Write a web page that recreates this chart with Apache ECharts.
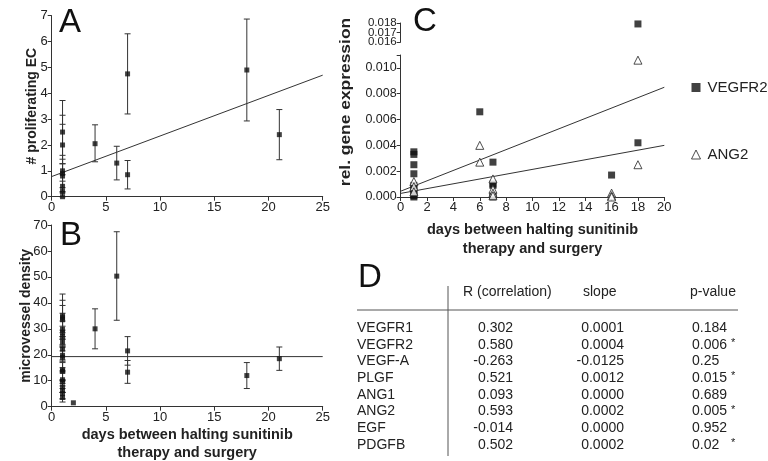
<!DOCTYPE html>
<html>
<head>
<meta charset="utf-8">
<script src="https://cdn.jsdelivr.net/npm/echarts@6/dist/echarts.min.js"></script>
<style>
html, body { margin: 0; background: #fff; }
#main { width: 768px; height: 461px; }
</style>
</head>
<body>
<div id="main"></div>
<script>
// panel A: proliferating EC vs days (mean, error bar low/high)
var daysA = [1, 1, 1, 1, 1, 1, 1, 1, 4, 6, 7, 7, 18, 21];
var ecA   = [2.5, 2.0, 1.0, 0.9, 0.8, 0.4, 0.2, 0.0, 2.05, 1.3, 4.75, 0.85, 4.9, 2.4];
var ecLoA = [1.28, 0.85, 0.2, 0.35, 0.15, 0.0, 0.0, 0.0, 1.35, 0.65, 3.2, 0.3, 2.93, 1.43];
var ecHiA = [3.72, 3.15, 2.8, 1.6, 1.45, 1.27, 0.6, 0.0, 2.78, 1.95, 6.3, 1.4, 6.87, 3.37];
var fitA  = [[0, 0.78], [25, 4.7]];

// panel B: microvessel density vs days
var daysB = [1, 1, 1, 1, 1, 1, 1, 1, 1, 1, 1, 1, 1, 1, 1, 1, 1, 1, 2, 4, 6, 7, 7, 18, 21];
var mvdB  = [35, 34.3, 33.5, 29.8, 28.5, 27, 25, 22.2, 19.8, 19, 14.2, 13.6, 10.4, 9.6, 7.6, 6.2, 5.0, 3.6, 1.5, 30, 50.3, 21.5, 13.3, 12, 18.5];
var mvdLoB = [27, 29.5, 26, 23.5, 24, 23, 21.5, 17.5, 13.5, 15, 10.5, 10, 8, 5.5, 5.5, 3, 3, 1.8, 1.5, 22.3, 33.3, 16, 9, 7, 14];
var mvdHiB = [43.4, 39, 41, 36, 33, 31, 28.5, 27, 26, 23, 18, 17, 13, 14, 10, 9, 7, 5.5, 1.5, 37.7, 67.4, 27, 17.8, 17, 23];
var fitB  = [[0, 19.3], [25, 19.3]];

// panel C: relative gene expression (broken y axis)
var daysVegfr2 = [1, 1, 1, 1, 1, 1, 1, 1, 1, 6, 7, 7, 7, 7, 7, 16, 18, 18];
var vegfr2     = [0.0035, 0.0033, 0.0025, 0.0018, 0.0009, 0.0006, 0.0003, 0.0001, 0.0, 0.0066, 0.0027, 0.0010, 0.0009, 0.0001, 0.0, 0.0017, 0.0179, 0.0042];
var daysAng2   = [1, 1, 1, 6, 6, 7, 7, 7, 7, 16, 16, 16, 18, 18];
var ang2       = [0.0012, 0.0008, 0.0004, 0.0040, 0.0027, 0.0014, 0.0006, 0.0003, 0.0001, 0.0003, 0.0001, 0.0, 0.0106, 0.0025];
var fitVegfr2  = [[0, 0.00045], [20, 0.0085]];
var fitAng2    = [[0, 0.00028], [20, 0.0040]];
var breakLow = 0.011, breakHigh = 0.016, topC = 0.018;

// panel D: table
var genes  = ['VEGFR1', 'VEGFR2', 'VEGF-A', 'PLGF', 'ANG1', 'ANG2', 'EGF', 'PDGFB'];
var rCorr  = ['0.302', '0.580', '-0.263', '0.521', '0.093', '0.593', '-0.014', '0.502'];
var slopes = ['0.0001', '0.0004', '-0.0125', '0.0012', '0.0000', '0.0002', '0.0000', '0.0002'];
var pVals  = ['0.184', '0.006', '0.25', '0.015', '0.689', '0.005', '0.952', '0.02'];
var signif = [false, true, false, true, false, true, false, true];

var FONT = 'Liberation Sans, Arial, sans-serif';
var INK = '#222';

function pairs(xs, ys) {
  return xs.map(function (x, i) { return [x, ys[i]]; });
}
function bars(xs, lo, hi) {
  return xs.map(function (x, i) { return [x, lo[i], hi[i]]; });
}

function errorBar(params, api) {
  var x = api.value(0), lo = api.value(1), hi = api.value(2);
  if (hi - lo <= 0) return;
  var a = api.coord([x, lo]), b = api.coord([x, hi]);
  var w = 3, st = { stroke: '#333', lineWidth: 1 };
  return {
    type: 'group',
    children: [
      { type: 'line', shape: { x1: a[0], y1: a[1], x2: b[0], y2: b[1] }, style: st },
      { type: 'line', shape: { x1: a[0] - w, y1: a[1], x2: a[0] + w, y2: a[1] }, style: st },
      { type: 'line', shape: { x1: b[0] - w, y1: b[1], x2: b[0] + w, y2: b[1] }, style: st }
    ]
  };
}

function valAxis(idx, min, max, interval, extra) {
  var ax = {
    type: 'value', gridIndex: idx, min: min, max: max, interval: interval,
    axisLine: { show: true, lineStyle: { color: '#333', width: 1 } },
    axisTick: { show: true, length: 4, lineStyle: { color: '#333' } },
    axisLabel: { color: INK, fontSize: 13, fontFamily: FONT, margin: 4 },
    splitLine: { show: false }
  };
  return Object.assign(ax, extra || {});
}

function isMid(v) { return Math.abs(v - 0.017) < 1e-7; }

var titleStyle = { color: INK, fontSize: 14.5, fontWeight: 'bold', fontFamily: FONT, lineHeight: 18 };
var upperLabel = { color: INK, fontSize: 11.5, fontFamily: FONT, margin: 4,
  showMinLabel: true, showMaxLabel: true, hideOverlap: false };

var chart = echarts.init(document.getElementById('main'));

var option = {
  animation: false,
  backgroundColor: '#fff',
  grid: [
    { left: 51.7, top: 15.7, width: 271, height: 181, outerBoundsMode: 'none' },
    { left: 51.7, top: 225, width: 271, height: 181.7, outerBoundsMode: 'none' },
    { left: 400.7, top: 55, width: 263.6, height: 142, outerBoundsMode: 'none' },
    { left: 400.7, top: 23, width: 263.6, height: 19, outerBoundsMode: 'none' }
  ],
  xAxis: [
    valAxis(0, 0, 25, 5),
    valAxis(1, 0, 25, 5, {
      name: 'days between halting sunitinib\ntherapy and surgery',
      nameLocation: 'middle', nameGap: 19, nameTextStyle: titleStyle
    }),
    valAxis(2, 0, 20, 2, {
      name: 'days between halting sunitinib\ntherapy and surgery',
      nameLocation: 'middle', nameGap: 23,
      nameTextStyle: Object.assign({}, titleStyle, { lineHeight: 19 })
    }),
    valAxis(3, 0, 20, 2, { show: false })
  ],
  yAxis: [
    valAxis(0, 0, 7, 1, {
      name: '# proliferating EC', nameLocation: 'middle', nameGap: 13, nameMoveOverlap: false,
      nameTextStyle: { color: INK, fontSize: 14, fontWeight: 'bold', fontFamily: FONT }
    }),
    valAxis(1, 0, 70, 10, {
      name: 'microvessel density', nameLocation: 'middle', nameGap: 18.5, nameMoveOverlap: false,
      nameTextStyle: { color: INK, fontSize: 14, fontWeight: 'bold', fontFamily: FONT }
    }),
    valAxis(2, 0, breakLow, 0.002, {
      axisLabel: {
        color: INK, fontSize: 12.5, fontFamily: FONT, margin: 4,
        formatter: function (v) { return v > 0.0105 ? '' : v.toFixed(3); }
      }
    }),
    valAxis(3, breakHigh, topC, 0.001, {
      position: 'left',
      axisLabel: Object.assign({}, upperLabel, {
        formatter: function (v) { return isMid(v) ? '' : v.toFixed(3); }
      })
    }),
    valAxis(3, breakHigh, topC, 0.001, {
      position: 'left',
      axisLine: { show: false }, axisTick: { show: false },
      axisLabel: Object.assign({}, upperLabel, {
        formatter: function (v) { return isMid(v) ? v.toFixed(3) : ''; }
      })
    })
  ],
  legend: {
    data: [
      { name: 'VEGFR2', icon: 'rect', itemStyle: { color: '#111', borderWidth: 0 } },
      { name: 'ANG2', icon: 'triangle', itemStyle: { color: '#fff', borderColor: '#222', borderWidth: 1 } }
    ],
    orient: 'vertical', left: 686, top: 75, itemGap: 52,
    itemWidth: 9, itemHeight: 9,
    textStyle: { color: INK, fontSize: 15, fontFamily: FONT, padding: [0, 0, 0, 2] }
  },
  series: [
    // A
    { type: 'custom', xAxisIndex: 0, yAxisIndex: 0, renderItem: errorBar,
      encode: { x: 0, y: [1, 2] }, data: bars(daysA, ecLoA, ecHiA), z: 1 },
    { type: 'line', xAxisIndex: 0, yAxisIndex: 0, data: fitA, symbol: 'none',
      lineStyle: { color: '#333', width: 1 }, z: 2 },
    { type: 'scatter', xAxisIndex: 0, yAxisIndex: 0, data: pairs(daysA, ecA),
      symbol: 'rect', symbolSize: 5, itemStyle: { color: '#111' }, z: 3 },
    // B
    { type: 'custom', xAxisIndex: 1, yAxisIndex: 1, renderItem: errorBar,
      encode: { x: 0, y: [1, 2] }, data: bars(daysB, mvdLoB, mvdHiB), z: 1 },
    { type: 'line', xAxisIndex: 1, yAxisIndex: 1, data: fitB, symbol: 'none',
      lineStyle: { color: '#333', width: 1 }, z: 2 },
    { type: 'scatter', xAxisIndex: 1, yAxisIndex: 1, data: pairs(daysB, mvdB),
      symbol: 'rect', symbolSize: 5, itemStyle: { color: '#111' }, z: 3 },
    // C
    { type: 'line', xAxisIndex: 2, yAxisIndex: 2, data: fitVegfr2, symbol: 'none',
      lineStyle: { color: '#333', width: 1 }, z: 2 },
    { type: 'line', xAxisIndex: 2, yAxisIndex: 2, data: fitAng2, symbol: 'none',
      lineStyle: { color: '#333', width: 1 }, z: 2 },
    { name: 'VEGFR2', type: 'scatter', xAxisIndex: 2, yAxisIndex: 2,
      data: pairs(daysVegfr2, vegfr2).filter(function (p) { return p[1] <= breakLow; }),
      symbol: 'rect', symbolSize: 7, itemStyle: { color: '#111' }, z: 3 },
    { name: 'VEGFR2', type: 'scatter', xAxisIndex: 3, yAxisIndex: 3,
      data: pairs(daysVegfr2, vegfr2).filter(function (p) { return p[1] >= breakHigh; }),
      symbol: 'rect', symbolSize: 7, itemStyle: { color: '#111' }, z: 3 },
    { name: 'ANG2', type: 'scatter', xAxisIndex: 2, yAxisIndex: 2,
      data: pairs(daysAng2, ang2), symbol: 'triangle', symbolSize: 8,
      itemStyle: { color: '#fff', borderColor: '#222', borderWidth: 1 }, z: 4 }
  ],
  graphic: []
};

// panel letters and C axis title
var g = option.graphic;
var letters = [['A', 59, 22.5], ['B', 60, 236], ['C', 413, 22], ['D', 358, 278]];
letters.forEach(function (l) {
  g.push({ type: 'text', x: l[1], y: l[2], style: {
    text: l[0], font: '33px ' + FONT, fill: '#111', verticalAlign: 'middle' } });
});
g.push({ type: 'text', x: 346, y: 102, rotation: Math.PI / 2, scaleX: 1.2, style: {
  text: 'rel. gene expression', font: 'bold 14.5px ' + FONT, fill: INK,
  align: 'center', verticalAlign: 'middle' } });

// panel D table
var tableFont = '14px ' + FONT;
g.push({ type: 'line', shape: { x1: 357, y1: 310, x2: 738, y2: 310 }, style: { stroke: '#555', lineWidth: 1 } });
g.push({ type: 'line', shape: { x1: 448, y1: 286, x2: 448, y2: 456 }, style: { stroke: '#555', lineWidth: 1 } });
[['R (correlation)', 463], ['slope', 583], ['p-value', 690]].forEach(function (h) {
  g.push({ type: 'text', x: h[1], y: 292, style: { text: h[0], font: tableFont, fill: INK, verticalAlign: 'middle' } });
});
genes.forEach(function (name, i) {
  var y = 328 + i * 16.7;
  g.push({ type: 'text', x: 357, y: y, style: { text: name, font: tableFont, fill: INK, verticalAlign: 'middle' } });
  g.push({ type: 'text', x: 513, y: y, style: { text: rCorr[i], font: tableFont, fill: INK, align: 'right', verticalAlign: 'middle' } });
  g.push({ type: 'text', x: 624, y: y, style: { text: slopes[i], font: tableFont, fill: INK, align: 'right', verticalAlign: 'middle' } });
  g.push({ type: 'text', x: 692, y: y, style: { text: pVals[i], font: tableFont, fill: INK, verticalAlign: 'middle' } });
  if (signif[i]) {
    g.push({ type: 'text', x: 731, y: y - 2, style: { text: '*', font: '11px ' + FONT, fill: INK, verticalAlign: 'middle' } });
  }
});

chart.setOption(option);
</script>
</body>
</html>
